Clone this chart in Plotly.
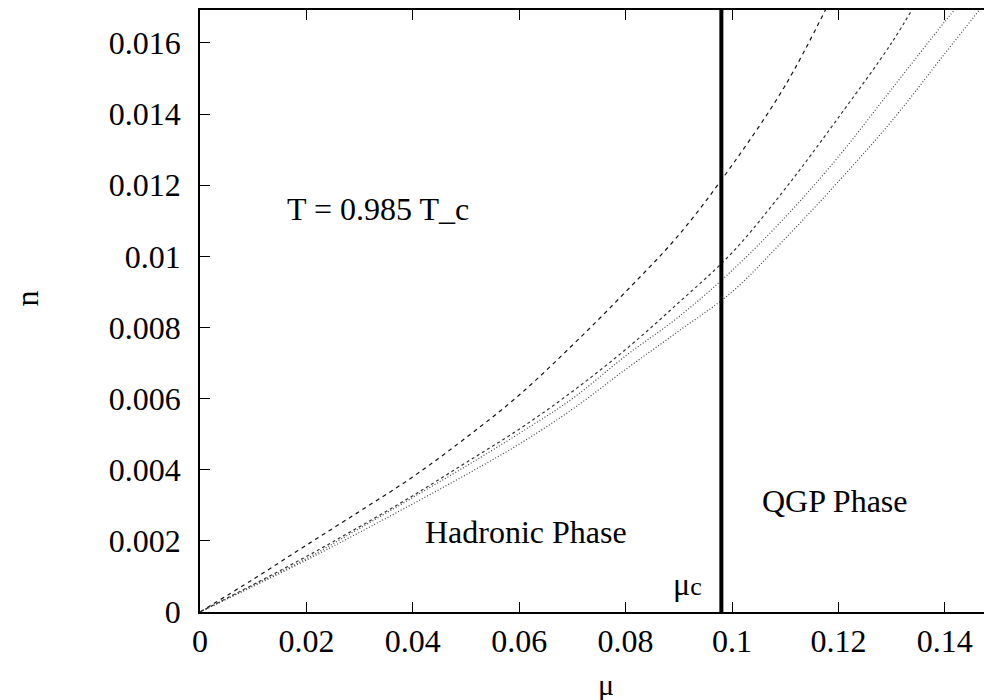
import plotly.graph_objects as go

# ---- data ----
mu_1 = [0, 0.01, 0.02, 0.03, 0.04, 0.05, 0.06, 0.07, 0.08, 0.09, 0.10, 0.11, 0.1178]
n_1 = [0, 0.00092, 0.00188, 0.00283, 0.0038, 0.0049, 0.0061, 0.0075, 0.0090, 0.0106, 0.01256, 0.0148, 0.0170]

mu_2 = [0, 0.01, 0.02, 0.03, 0.04, 0.05, 0.06, 0.07, 0.08, 0.09, 0.10, 0.11, 0.12, 0.13, 0.1341]
n_2 = [0, 0.00077, 0.00156, 0.0024, 0.00327, 0.0042, 0.00514, 0.0062, 0.00738, 0.0087, 0.0101, 0.0119, 0.0139, 0.0160, 0.0170]

mu_3 = [0, 0.01, 0.02, 0.03, 0.04, 0.05, 0.06, 0.07, 0.08, 0.09, 0.10, 0.11, 0.12, 0.13, 0.14, 0.1422]
n_3 = [0, 0.00075, 0.0015, 0.00235, 0.00322, 0.0041, 0.00502, 0.0060, 0.0072, 0.0083, 0.0096, 0.0111, 0.0128, 0.0147, 0.0166, 0.0170]

mu_4 = [0, 0.01, 0.02, 0.03, 0.04, 0.05, 0.06, 0.07, 0.08, 0.09, 0.10, 0.11, 0.12, 0.13, 0.14, 0.1469]
n_4 = [0, 0.00072, 0.00146, 0.00224, 0.00304, 0.00386, 0.00472, 0.0057, 0.00682, 0.0079, 0.0090, 0.0105, 0.0121, 0.0138, 0.0157, 0.0170]

mu_c = 0.098
line_y = [0, 0.017]

x_ticks = [0, 0.02, 0.04, 0.06, 0.08, 0.1, 0.12, 0.14]
x_tick_labels = ["0", "0.02", "0.04", "0.06", "0.08", "0.1", "0.12", "0.14"]
y_ticks = [0, 0.002, 0.004, 0.006, 0.008, 0.01, 0.012, 0.014, 0.016]
y_tick_labels = ["0", "0.002", "0.004", "0.006", "0.008", "0.01", "0.012", "0.014", "0.016"]

FONT = "Liberation Serif, Times New Roman, serif"

# page body has an 8px margin; figure sized so the plot area lands where the reference has it
PAGE_OFF = 8
W, H = 992, 692
ML, MR, MT, MB = 192, 0, 0, 88

fig = go.Figure()
series = [
    (mu_1, n_1, "#111111", "4px,4px"),
    (mu_2, n_2, "#333333", "3px,3px"),
    (mu_3, n_3, "#444444", "1px,2px"),
    (mu_4, n_4, "#444444", "1px,2px"),
]
for xs, ys, col, dash in series:
    fig.add_trace(go.Scatter(x=xs, y=ys, mode="lines",
                             line=dict(color=col, width=1.2, dash=dash, shape="spline"),
                             showlegend=False, hoverinfo="skip"))

fig.add_trace(go.Scatter(x=[mu_c, mu_c], y=line_y, mode="lines",
                         line=dict(color="black", width=4), showlegend=False, hoverinfo="skip"))

fig.update_layout(
    width=W, height=H,
    margin=dict(l=ML, r=MR, t=MT, b=MB),
    paper_bgcolor="white", plot_bgcolor="white",
    font=dict(family=FONT, size=32, color="black"),
    xaxis=dict(range=[0, 0.15], tickvals=x_ticks, ticktext=x_tick_labels,
               ticks="inside", ticklen=10, tickwidth=1, tickcolor="black",
               showline=True, linecolor="black", linewidth=1.5, mirror="ticks",
               showgrid=False, zeroline=False,
               tickfont=dict(family=FONT, size=32)),
    yaxis=dict(range=[0, 0.016925], tickvals=y_ticks, ticktext=y_tick_labels,
               ticks="inside", ticklen=10, tickwidth=1, tickcolor="black",
               showline=True, linecolor="black", linewidth=1.5, mirror="ticks",
               showgrid=False, zeroline=False, ticklabelstandoff=11,
               tickfont=dict(family=FONT, size=32)),
    annotations=[
        dict(text="T = 0.985 T_c", x=0.0159, y=0.01132, xref="x", yref="y",
             xanchor="left", yanchor="middle", showarrow=False,
             font=dict(family=FONT, size=32)),
        dict(text="Hadronic Phase", x=0.042, y=0.00226, xref="x", yref="y",
             xanchor="left", yanchor="middle", showarrow=False,
             font=dict(family=FONT, size=32)),
        dict(text="QGP Phase", x=0.1053, y=0.00313, xref="x", yref="y",
             xanchor="left", yanchor="middle", showarrow=False,
             font=dict(family=FONT, size=32)),
        dict(text="μ<span style='font-size:26px'>c</span>", x=0.0947, y=0.0008, xref="x", yref="y",
             xanchor="right", yanchor="middle", showarrow=False,
             font=dict(family=FONT, size=32)),
        dict(text="μ", x=607, y=685, xref="paper", yref="paper", showarrow=False,
             xanchor="center", yanchor="middle", font=dict(family=FONT, size=30)),
        dict(text="n", x=27, y=297, xref="paper", yref="paper", showarrow=False,
             xanchor="center", yanchor="middle",
             textangle=-90, font=dict(family=FONT, size=32)),
    ],
)

# convert screen-pixel positions of the two axis titles to paper coordinates
pw, ph = W - ML - MR, H - MT - MB
x0, y0 = PAGE_OFF + ML, PAGE_OFF + MT
for ann in fig.layout.annotations:
    if ann.xref == "paper":
        px, py = ann.x, ann.y
        ann.x = (px - x0) / pw
        ann.y = 1 - (py - y0) / ph

fig.write_html("out.html")
